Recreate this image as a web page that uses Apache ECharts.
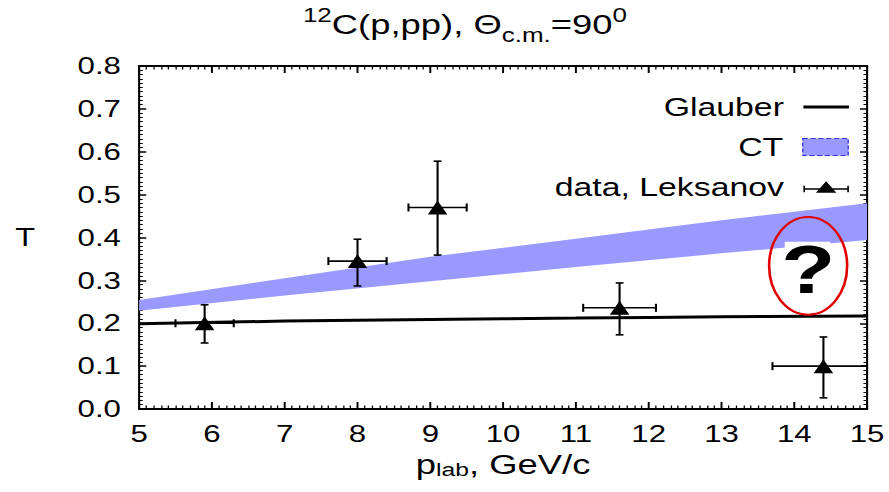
<!DOCTYPE html>
<html><head><meta charset="utf-8">
<script src="https://cdn.jsdelivr.net/npm/echarts/dist/echarts.min.js"></script>
<style>
html,body{margin:0;padding:0;background:#fff;overflow:hidden;}
#c{width:684px;height:492px;transform:scaleX(1.3);transform-origin:0 0;}
</style>
</head><body><div id="c"></div>
<script>
// ---- data ----
const pLab   = [5.9, 8.0, 9.1, 11.6, 14.4];
const tData  = [0.200, 0.345, 0.470, 0.236, 0.100];
const pLow   = [5.5, 7.6, 8.7, 11.1, 13.7];
const pHigh  = [6.3, 8.4, 9.5, 12.1, 15.1];
const tLow   = [0.154, 0.287, 0.359, 0.173, 0.026];
const tHigh  = [0.243, 0.396, 0.578, 0.294, 0.168];
const curveP   = [5, 7, 9, 11, 13, 15];
const glauberT = [0.199, 0.205, 0.209, 0.212, 0.215, 0.217];
const ctLow    = [0.229, 0.265, 0.298, 0.331, 0.363, 0.394];
const ctHigh   = [0.254, 0.305, 0.355, 0.397, 0.440, 0.480];
const markCenter = [14.19, 0.334];
const markRadius = [0.536, 0.114];
const markText = '?';
const seriesNames = ['Glauber', 'CT', 'data, Leksanov'];

const FF = '"Liberation Sans", Arial, Helvetica, sans-serif';
const BAND = '#9999ff';
const chart = echarts.init(document.getElementById('c'), null, {renderer: 'svg'});

function xAxisDef(pos, showLabel) {
  return {
    type: 'value', position: pos, min: 5, max: 15, interval: 1,
    axisLine: {show: true, onZero: false, lineStyle: {color: '#000', width: 2}},
    axisTick: {show: true, inside: true, length: 7, lineStyle: {color: '#000', width: 1.5}},
    minorTick: {show: true, splitNumber: 10, length: 3.5, lineStyle: {color: '#000', width: 1}},
    splitLine: {show: false},
    axisLabel: {show: showLabel, color: '#000', fontSize: 24, fontFamily: FF, margin: 13},
  };
}
function yAxisDef(pos, showLabel) {
  return {
    type: 'value', position: pos, min: 0, max: 0.8, interval: 0.1,
    axisLine: {show: true, onZero: false, lineStyle: {color: '#000', width: 1.6}},
    axisTick: {show: true, inside: true, length: 5.5, lineStyle: {color: '#000', width: 1.5}},
    minorTick: {show: true, splitNumber: 10, length: 2.8, lineStyle: {color: '#000', width: 1}},
    splitLine: {show: false},
    axisLabel: {show: showLabel, color: '#000', fontSize: 24, fontFamily: FF, margin: 14,
                formatter: v => v.toFixed(1)},
  };
}

const xb = xAxisDef('bottom', true);
xb.name = 'p{sub|lab}, GeV/c';
xb.nameLocation = 'middle';
xb.nameGap = 42;
xb.nameTextStyle = {color: '#000', fontSize: 28, fontFamily: FF,
  rich: {sub: {fontSize: 19, fontFamily: FF, color: '#000', verticalAlign: 'bottom', lineHeight: 16}}};
const yl = yAxisDef('left', true);
yl.name = 'T';
yl.nameLocation = 'middle';
yl.nameRotate = 0;
yl.nameGap = 80;
yl.nameTextStyle = {color: '#000', fontSize: 25, fontFamily: FF};

const legendText = {fontSize: 26, fontFamily: FF, color: '#000', padding: [0, 10, 0, 0]};

const option = {
  animation: false,
  backgroundColor: '#fff',
  title: {
    text: '{sup|12}C(p,pp), Θ{sub|c.m.}=90{sup|0}',
    left: 228, top: 0, padding: 5,
    textStyle: {fontSize: 28, fontWeight: 'normal', color: '#000', fontFamily: FF, lineHeight: 40,
      rich: {
        sup: {fontSize: 20, fontFamily: FF, color: '#000', verticalAlign: 'top', lineHeight: 20},
        sub: {fontSize: 20, fontFamily: FF, color: '#000', verticalAlign: 'bottom', lineHeight: 16}
      }}
  },
  grid: {left: 107, right: 17, top: 66, bottom: 83, containLabel: false, outerBoundsMode: 'none'},
  legend: [
    {data: [seriesNames[0]], right: 31, top: 94, padding: 0, align: 'right', icon: 'rect',
     itemWidth: 35, itemHeight: 3, itemStyle: {color: '#000'}, textStyle: legendText},
    {data: [seriesNames[1]], right: 31, top: 134, padding: 0, align: 'right', icon: 'rect',
     itemWidth: 35, itemHeight: 17,
     itemStyle: {color: BAND, borderColor: '#3333dd', borderType: 'dashed', borderWidth: 1},
     textStyle: legendText},
    {data: [seriesNames[2]], right: 31, top: 174, padding: 0, align: 'right',
     icon: 'path://M11,13 L20,0 L29,13 Z M0,8 L40,8 L40,9.6 L0,9.6 Z M0,5 L1.4,5 L1.4,12.6 L0,12.6 Z M38.6,5 L40,5 L40,12.6 L38.6,12.6 Z',
     itemWidth: 35, itemHeight: 13, itemStyle: {color: '#000'}, textStyle: legendText}
  ],
  xAxis: [xb, xAxisDef('top', false)],
  yAxis: [yl, yAxisDef('right', false)],
  series: [
    {name: seriesNames[1], type: 'custom', clip: true, silent: true, z: 1,
     data: curveP.map((p, i) => [p, ctLow[i], ctHigh[i]]),
     encode: {x: 0, y: [1, 2]},
     itemStyle: {color: BAND},
     renderItem: function (params, api) {
       if (params.dataIndexInside !== 0) return null;
       const n = params.dataInsideLength;
       const top = [], bot = [];
       for (let j = 0; j < n; j++) {
         top.push(api.coord([api.value(0, j), api.value(2, j)]));
         bot.push(api.coord([api.value(0, j), api.value(1, j)]));
       }
       return {type: 'polygon', shape: {points: top.concat(bot.reverse())}, style: {fill: BAND}};
     }},
    {name: seriesNames[0], type: 'line', symbol: 'none', smooth: true, silent: true,
     data: curveP.map((p, i) => [p, glauberT[i]]),
     itemStyle: {color: '#000'},
     lineStyle: {color: '#000', width: 3}, z: 3},
    {name: 'errors', type: 'custom', clip: true, silent: true, z: 4,
     data: pLab.map((p, i) => [p, tData[i], pLow[i], pHigh[i], tLow[i], tHigh[i]]),
     encode: {x: 0, y: 1},
     renderItem: function (params, api) {
       const x = api.value(0), y = api.value(1);
       const l = api.coord([api.value(2), y]), r = api.coord([api.value(3), y]);
       const b = api.coord([x, api.value(4)]), t = api.coord([x, api.value(5)]);
       const st = {stroke: '#000', lineWidth: 1.6};
       const hc = 3, vc = 4;
       return {type: 'group', children: [
         {type: 'line', shape: {x1: l[0], y1: l[1], x2: r[0], y2: r[1]}, style: st},
         {type: 'line', shape: {x1: l[0], y1: l[1] - vc, x2: l[0], y2: l[1] + vc}, style: st},
         {type: 'line', shape: {x1: r[0], y1: r[1] - vc, x2: r[0], y2: r[1] + vc}, style: st},
         {type: 'line', shape: {x1: b[0], y1: b[1], x2: t[0], y2: t[1]}, style: st},
         {type: 'line', shape: {x1: b[0] - hc, y1: b[1], x2: b[0] + hc, y2: b[1]}, style: st},
         {type: 'line', shape: {x1: t[0] - hc, y1: t[1], x2: t[0] + hc, y2: t[1]}, style: st}
       ]};
     }},
    {name: seriesNames[2], type: 'scatter', symbol: 'triangle', symbolSize: [15, 14], z: 5, silent: true,
     data: pLab.map((p, i) => [p, tData[i]]),
     itemStyle: {color: '#000', opacity: 1}},
    {name: 'mark', type: 'custom', silent: true, z: 6,
     data: [[markCenter[0], markCenter[1], markRadius[0], markRadius[1]]],
     encode: {x: 0, y: 1},
     renderItem: function (params, api) {
       const c = api.coord([api.value(0), api.value(1)]);
       const s = api.size([api.value(2), api.value(3)]);
       return {type: 'group', children: [
         {type: 'rect', shape: {x: c[0] - 18, y: c[1] - 24, width: 35, height: 62}, style: {fill: '#fff'}},
         {type: 'text', x: c[0], y: c[1] + 4,
          style: {text: markText, fontSize: 68, fontWeight: 'bold', fontFamily: FF, fill: '#000',
                  align: 'center', verticalAlign: 'middle'}},
         {type: 'ellipse', shape: {cx: c[0], cy: c[1], rx: s[0], ry: s[1]},
          style: {fill: 'none', stroke: '#e00000', lineWidth: 2}}
       ]};
     }}
  ]
};
chart.setOption(option);
</script>
</body></html>
